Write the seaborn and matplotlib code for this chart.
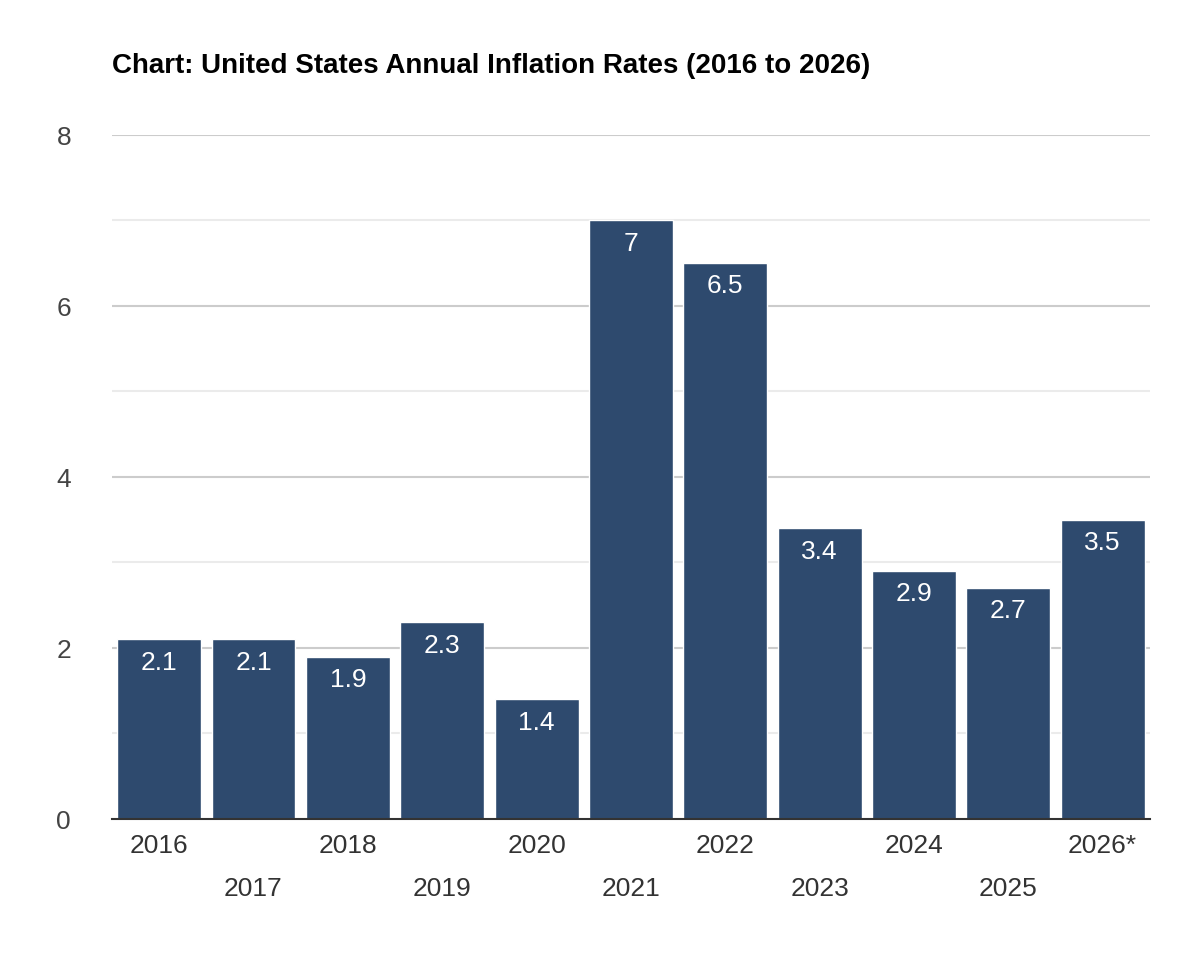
import matplotlib
matplotlib.use("Agg")
import matplotlib.pyplot as plt
import seaborn as sns
import pandas as pd

years = ["2016", "2017", "2018", "2019", "2020", "2021", "2022", "2023", "2024", "2025", "2026*"]
rates = [2.1, 2.1, 1.9, 2.3, 1.4, 7, 6.5, 3.4, 2.9, 2.7, 3.5]

sns.set_style("white")
plt.rcParams["font.family"] = ["Liberation Sans", "DejaVu Sans"]

df = pd.DataFrame({"year": years, "rate": rates})

fig = plt.figure(figsize=(12.04, 9.78), dpi=100)
ax = fig.add_axes([0.093, 0.1616, 0.862, 0.6994])

for y in [1, 3, 5, 7]:
    ax.axhline(y, color="#ebebeb", lw=1.5, zorder=0)
for y in [2, 4, 6, 8]:
    ax.axhline(y, color="#cccccc", lw=1.5, zorder=0)

sns.barplot(data=df, x="year", y="rate", color="#2e4a6e", saturation=1,
            width=0.89, ax=ax, zorder=2)

for i, v in enumerate(rates):
    label = f"{v:g}"
    ax.text(i, v - 0.12, label, ha="center", va="top", color="white", fontsize=19)

ax.set_xlim(-0.5, 10.5)
ax.set_ylim(0, 8)
ax.set_yticks([0, 2, 4, 6, 8])
ax.tick_params(axis="y", labelsize=19, colors="#444444", length=0, pad=40)
for lab in ax.get_yticklabels():
    lab.set_horizontalalignment("left")
ax.set_xticks(range(len(years)))
ax.set_xticklabels([("\n" if i % 2 else "") + y for i, y in enumerate(years)],
                   fontsize=19, color="#333333", linespacing=2.0)
ax.tick_params(axis="x", length=0, pad=10)
ax.set_xlabel("")
ax.set_ylabel("")
for s in ["top", "right", "left"]:
    ax.spines[s].set_visible(False)
ax.spines["bottom"].set_color("#333333")
ax.spines["bottom"].set_linewidth(1.5)
ax.spines["bottom"].set_zorder(3)

fig.text(0.093, 0.933, "Chart: United States Annual Inflation Rates (2016 to 2026)",
         fontsize=20, fontweight="bold", ha="left", va="center", color="black")

fig.savefig("out.png", dpi=100, facecolor="white")
